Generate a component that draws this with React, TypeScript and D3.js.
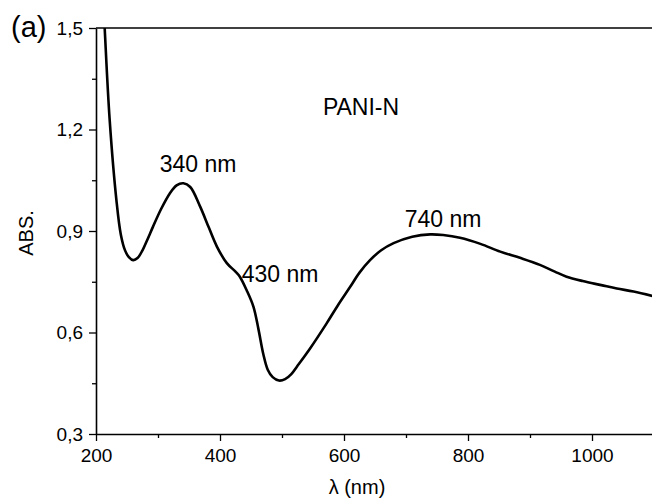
import * as d3 from 'd3';
import React, { useEffect, useRef } from 'react';

const width = 652;
const height = 500;
const margin = { top: 28, right: -2, bottom: 66, left: 96 };
const font = 'Liberation Sans, Arial, sans-serif';

// spectrum
const wavelength = [210, 214, 222, 233, 240, 247, 253, 260, 267, 275, 283, 292, 305, 319, 330, 341, 352, 368, 382, 395, 411, 425, 432, 443, 454, 462, 470, 477, 485, 495, 505, 515, 524, 545, 572, 590, 610, 625, 642, 660, 680, 710, 739, 760, 787, 820, 852, 885, 916, 940, 959, 985, 1015, 1040, 1067, 1100];
const absorbance = [1.65, 1.5, 1.23, 0.99, 0.89, 0.842, 0.823, 0.814, 0.82, 0.843, 0.875, 0.913, 0.965, 1.011, 1.035, 1.041, 1.03, 0.972, 0.91, 0.854, 0.805, 0.78, 0.765, 0.725, 0.676, 0.61, 0.535, 0.49, 0.468, 0.458, 0.462, 0.477, 0.499, 0.552, 0.627, 0.68, 0.735, 0.777, 0.814, 0.843, 0.864, 0.883, 0.89, 0.888, 0.88, 0.862, 0.839, 0.82, 0.8, 0.78, 0.765, 0.752, 0.74, 0.73, 0.721, 0.707];

const xTicks = [200, 400, 600, 800, 1000];
const xMinor = [300, 500, 700, 900, 1100];
const yTicks = [0.3, 0.6, 0.9, 1.2, 1.5];
const yMinor = [0.45, 0.75, 1.05, 1.35];

const peaks = [
  { label: '340 nm', x: 198, y: 172 },
  { label: '430 nm', x: 280, y: 282 },
  { label: '740 nm', x: 443, y: 227 },
];

const App = () => {
  const xAxisRef = useRef<SVGGElement>(null);
  const xMinorRef = useRef<SVGGElement>(null);
  const yAxisRef = useRef<SVGGElement>(null);
  const yMinorRef = useRef<SVGGElement>(null);

  const xScale = d3.scaleLinear().domain([200, 1100]).range([margin.left, width - margin.right]);
  const yScale = d3.scaleLinear().domain([0.3, 1.5]).range([height - margin.bottom, margin.top]);

  const data = wavelength.map((w, i) => [w, absorbance[i]] as [number, number]);
  const line = d3.line<[number, number]>()
    .x(d => xScale(d[0]))
    .y(d => yScale(d[1]))
    .curve(d3.curveCatmullRom.alpha(0.5));

  const fmt = (d: number) => d3.format('.1f')(d).replace('.', ',');

  useEffect(() => {
    const style = (sel: d3.Selection<SVGGElement, unknown, null, undefined>) => {
      sel.selectAll('path').attr('stroke', '#000').attr('stroke-width', 1.6);
      sel.selectAll('line').attr('stroke', '#000').attr('stroke-width', 1.3);
      sel.selectAll('text').attr('fill', '#000').attr('font-size', 19).attr('font-family', font);
    };
    const xa = d3.select(xAxisRef.current!);
    xa.call(d3.axisBottom(xScale).tickValues(xTicks).tickFormat(d => String(d)).tickSize(7).tickSizeOuter(0).tickPadding(8));
    style(xa);
    const xm = d3.select(xMinorRef.current!);
    xm.call(d3.axisBottom(xScale).tickValues(xMinor).tickFormat(() => '').tickSize(4).tickSizeOuter(0));
    style(xm);
    xm.select('path').remove();
    const ya = d3.select(yAxisRef.current!);
    ya.call(d3.axisLeft(yScale).tickValues(yTicks).tickFormat(d => fmt(d as number)).tickSize(7).tickSizeOuter(0).tickPadding(6));
    style(ya);
    const ym = d3.select(yMinorRef.current!);
    ym.call(d3.axisLeft(yScale).tickValues(yMinor).tickFormat(() => '').tickSize(4).tickSizeOuter(0));
    style(ym);
    ym.select('path').remove();
  }, []);

  return (
    <svg width={width} height={height} style={{ position: 'absolute', left: 0, top: 0, background: '#fff' }}>
      <defs>
        <clipPath id="plot">
          <rect x={margin.left} y={margin.top} width={width - margin.left} height={height - margin.top - margin.bottom} />
        </clipPath>
      </defs>
      <path d={line(data) || ''} fill="none" stroke="#000" strokeWidth={2.6} strokeLinejoin="round" clipPath="url(#plot)" />
      <line x1={margin.left} x2={width} y1={margin.top} y2={margin.top} stroke="#000" strokeWidth={1.6} />
      <g ref={xAxisRef} transform={`translate(0, ${height - margin.bottom})`} />
      <g ref={xMinorRef} transform={`translate(0, ${height - margin.bottom})`} />
      <g ref={yAxisRef} transform={`translate(${margin.left}, 0)`} />
      <g ref={yMinorRef} transform={`translate(${margin.left}, 0)`} />
      <g fontFamily={font} fill="#000">
        <text x={11} y={37} fontSize={29}>(a)</text>
        <text x={361} y={115} fontSize={23} textAnchor="middle">PANI-N</text>
        {peaks.map(p => (
          <text key={p.label} x={p.x} y={p.y} fontSize={23} textAnchor="middle">{p.label}</text>
        ))}
        <text x={357} y={494} fontSize={20} textAnchor="middle">λ (nm)</text>
        <text transform="translate(33, 233) rotate(-90)" fontSize={20} textAnchor="middle">ABS.</text>
      </g>
    </svg>
  );
};

export default App;
